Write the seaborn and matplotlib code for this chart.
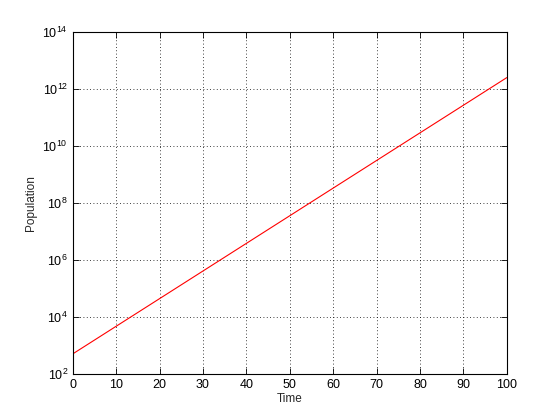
import seaborn as sns
import matplotlib.pyplot as plt
import pandas as pd

sns.set_style("white")
plt.rcParams['font.family'] = ['Liberation Sans', 'DejaVu Sans']
plt.rcParams['mathtext.fontset'] = 'custom'
plt.rcParams['mathtext.rm'] = 'Liberation Sans'

# values (line is straight on log axis)
time = [0, 10, 20, 30, 40, 50, 60, 70, 80, 90, 100]
population = [5.0e2, 4.65e3, 4.32e4, 4.02e5, 3.74e6, 3.48e7, 3.24e8, 3.01e9, 2.8e10, 2.6e11, 2.42e12]
yticks = [1e2, 1e4, 1e6, 1e8, 1e10, 1e12, 1e14]
xticks = [0, 10, 20, 30, 40, 50, 60, 70, 80, 90, 100]

df = pd.DataFrame({'Time': time, 'Population': population})

fig = plt.figure(figsize=(5.6, 4.2), dpi=100)
ax = fig.add_axes([0.13, 0.11, 0.775, 0.815])
sns.lineplot(data=df, x='Time', y='Population', color='red', linewidth=0.8, ax=ax)

ax.set_yscale('log')
ax.set_xlim(0, 100)
ax.set_ylim(1e2, 1e14)
ax.set_xticks(xticks)
ax.set_yticks(yticks)
ax.minorticks_off()
ax.set_xlabel('Time', fontsize=8.5, labelpad=2)
ax.set_ylabel('Population', fontsize=8.5, labelpad=4)
ax.tick_params(direction='in', length=4, width=0.6, labelsize=9, colors='black',
               top=True, right=True, bottom=True, left=True)
ax.grid(True, which='major', linestyle=(0, (1, 3)), color='black', linewidth=0.6)
for s in ax.spines.values():
    s.set_color('black')
    s.set_linewidth(0.8)

fig.savefig('out.png', dpi=100, facecolor='white')
